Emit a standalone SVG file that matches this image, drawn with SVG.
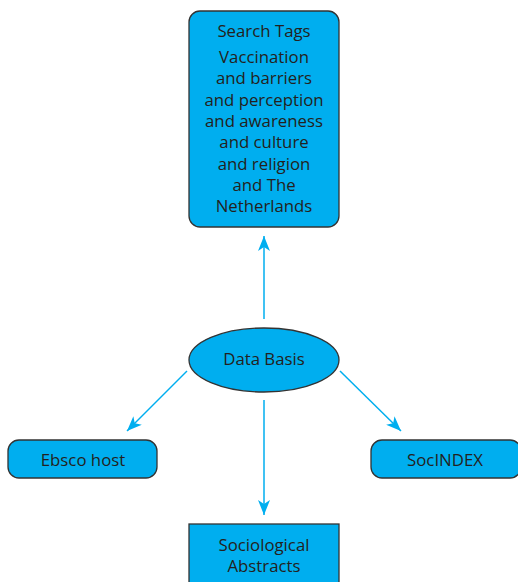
<svg xmlns="http://www.w3.org/2000/svg" width="518" height="582" viewBox="0 0 518 582">
<style>
.n{fill:#00AEEF;stroke:#333;stroke-width:1.3}
.t{font-family:"Open Sans","Noto Sans",sans-serif;font-size:16.8px;fill:#231F20;text-anchor:middle}
.c{stroke:#00AEEF;stroke-width:1.5;fill:none;marker-end:url(#ah)}
</style>
<defs>
<marker id="ah" viewBox="0 0 15 12" refX="15" refY="6" markerWidth="15" markerHeight="12" markerUnits="userSpaceOnUse" orient="auto">
<path d="M0,0 L15,6 L0,12 L4,6 z" fill="#00AEEF"/>
</marker>
</defs>
<g id="connectors">
<line class="c" x1="264" y1="319" x2="264" y2="236"/>
<line class="c" x1="187" y1="371" x2="127" y2="431"/>
<line class="c" x1="340" y1="371" x2="401" y2="431"/>
<line class="c" x1="264" y1="400" x2="264" y2="515"/>
</g>
<g id="search-tags">
<rect class="n" x="189" y="11" width="150" height="216" rx="11"/>
<text class="t" x="264" y="37">Search Tags</text>
<text class="t" x="264" y="63">Vaccination</text>
<text class="t" x="264" y="84.3">and barriers</text>
<text class="t" x="264" y="105.6">and perception</text>
<text class="t" x="264" y="126.9">and awareness</text>
<text class="t" x="264" y="148.2">and culture</text>
<text class="t" x="264" y="169.5">and religion</text>
<text class="t" x="264" y="190.8">and The</text>
<text class="t" x="264" y="212">Netherlands</text>
</g>
<g id="data-basis">
<ellipse class="n" cx="264" cy="360" rx="75" ry="32"/>
<text class="t" x="264" y="365">Data Basis</text>
</g>
<g id="ebsco">
<rect class="n" x="8" y="440" width="149" height="38" rx="11"/>
<text class="t" x="83" y="466">Ebsco host</text>
</g>
<g id="socindex">
<rect class="n" x="371" y="440" width="150" height="38" rx="11"/>
<text class="t" x="445" y="466">SocINDEX</text>
</g>
<g id="sociological">
<rect class="n" x="189" y="524" width="150" height="70"/>
<text class="t" x="264" y="551">Sociological</text>
<text class="t" x="264" y="572">Abstracts</text>
</g>
</svg>
